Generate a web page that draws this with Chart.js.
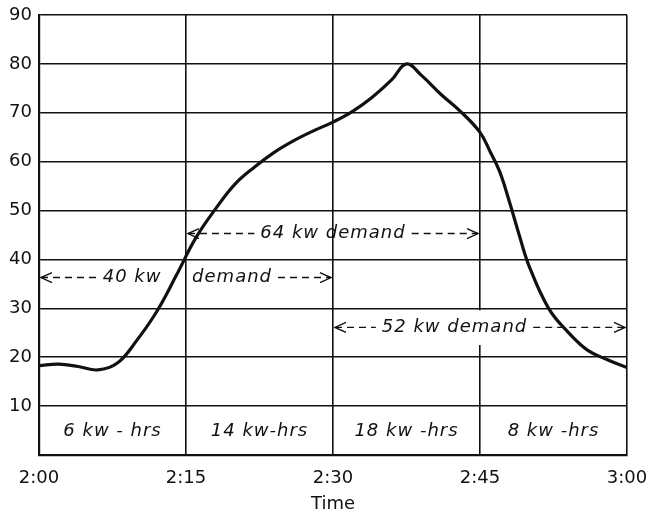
<!DOCTYPE html>
<html>
<head>
<meta charset="utf-8">
<script src="https://cdn.jsdelivr.net/npm/chart.js@4.4.0/dist/chart.umd.min.js"></script>
<style>
  html, body { margin: 0; padding: 0; background: #fff; }
  #box { width: 654px; height: 517px; }
</style>
</head>
<body>
<div id="box"><canvas id="grafico"></canvas></div>
<script>
// minutos depois das 2:00 e demanda em kw
var minutos = [0, 2, 4, 6, 8, 10, 12, 14, 16, 18, 20, 22, 24, 26, 28, 30, 32, 34, 36, 37.5, 39, 41, 43, 45, 46, 47, 48, 49, 50, 52, 54, 56, 58, 60];
var kw = [18.3, 18.6, 18.1, 17.4, 18.8, 23.5, 29.3, 36.7, 44.4, 50.3, 55.4, 58.9, 61.9, 64.3, 66.3, 68.1, 70.3, 73.2, 76.8, 80, 77.7, 73.8, 70.3, 66, 62.2, 58, 51.8, 45, 38.7, 30, 25.1, 21.4, 19.5, 17.9];

var rotulosX = ['2:00', '2:15', '2:30', '2:45', '3:00'];

// energia em cada quarto de hora
var faixas = ['6 kw - hrs', '14 kw-hrs', '18 kw -hrs', '8 kw -hrs'];

// setas de demanda: inicio/fim (min), nivel (kw), textos e onde ficam (min)
var demandaInicio = [0, 15, 30];
var demandaFim = [30, 45, 60];
var demandaNivel = [36.3, 45.3, 26.1];
var demandaTextos = [['40 kw', 'demand'], ['64 kw demand'], ['52 kw demand']];
var demandaPosicoes = [[9.5, 19.7], [30], [42.4]];

var preto = '#111';
var fonteMao = 'italic 18px "DejaVu Sans"';

var pontos = minutos.map(function (m, i) { return { x: m, y: kw[i] }; });

function seta(ctx, x, y, dir) {
    ctx.beginPath();
    ctx.moveTo(x - dir * 11, y - 5);
    ctx.lineTo(x, y);
    ctx.lineTo(x - dir * 11, y + 5);
    ctx.stroke();
}

function tracejado(ctx, x1, x2, y) {
    if (x2 - x1 < 2) return;
    ctx.save();
    ctx.setLineDash([7, 5]);
    ctx.beginPath();
    ctx.moveTo(x1, y);
    ctx.lineTo(x2, y);
    ctx.stroke();
    ctx.restore();
}

var anotacoes = {
    id: 'anotacoes',
    afterDatasetsDraw: function (chart) {
        var ctx = chart.ctx;
        var sx = chart.scales.x, sy = chart.scales.y;
        ctx.save();

        // abertura na linha das 2:45 onde passa a seta de 52 kw
        ctx.fillStyle = '#fff';
        ctx.fillRect(sx.getPixelForValue(45) - 2, sy.getPixelForValue(30) + 2, 4, sy.getPixelForValue(22.9) - sy.getPixelForValue(30));

        ctx.fillStyle = preto;
        ctx.strokeStyle = preto;
        ctx.lineWidth = 1.4;
        ctx.font = fonteMao;
        ctx.letterSpacing = '1px';
        ctx.textAlign = 'center';
        ctx.textBaseline = 'middle';

        // kw-hrs abaixo da linha de 10
        faixas.forEach(function (t, i) {
            ctx.fillText(t, sx.getPixelForValue(i * 15 + 7.5), sy.getPixelForValue(4.9));
        });

        for (var i = 0; i < demandaInicio.length; i++) {
            var y = sy.getPixelForValue(demandaNivel[i]);
            var xa = sx.getPixelForValue(demandaInicio[i]) + 2;
            var xb = sx.getPixelForValue(demandaFim[i]) - 2;
            var textos = demandaTextos[i];
            var pos = demandaPosicoes[i];
            var esq = null, dir = null;
            for (var j = 0; j < textos.length; j++) {
                var cx = sx.getPixelForValue(pos[j]);
                var w = ctx.measureText(textos[j]).width;
                ctx.fillText(textos[j], cx, y);
                if (j === 0) esq = cx - w / 2 - 6;
                if (j === textos.length - 1) dir = cx + w / 2 + 6;
            }
            tracejado(ctx, xa, esq, y);
            tracejado(ctx, dir, xb, y);
            seta(ctx, xa, y, -1);
            seta(ctx, xb, y, 1);
        }
        ctx.restore();
    }
};

var ctx1 = document.getElementById('grafico').getContext('2d');
var grafico = new Chart(ctx1, {
    type: 'line',
    data: {
        datasets: [{
            label: 'kw',
            data: pontos,
            borderColor: preto,
            borderWidth: 3.2,
            pointRadius: 0,
            tension: 0.4,
            fill: false
        }]
    },
    options: {
        responsive: true,
        maintainAspectRatio: false,
        animation: false,
        layout: { padding: { top: 15, right: 27, left: 0, bottom: 0 } },
        plugins: {
            legend: { display: false },
            tooltip: { enabled: false }
        },
        scales: {
            x: {
                type: 'linear',
                min: 0,
                max: 60,
                afterFit: function (s) {
                    s.height = 62;
                    s.paddingLeft = 0;
                    s.paddingRight = 0;
                },
                afterBuildTicks: function (s) {
                    s.ticks = rotulosX.map(function (r, i) { return { value: i * 15 }; });
                },
                ticks: {
                    padding: 13,
                    color: preto,
                    font: { family: 'DejaVu Sans', size: 18 },
                    maxRotation: 0,
                    callback: function (v, i) { return rotulosX[i]; }
                },
                grid: { color: preto, lineWidth: 1.6, drawTicks: false },
                border: { color: preto, width: 2.2 },
                title: {
                    display: true,
                    text: 'Time',
                    color: preto,
                    font: { family: 'DejaVu Sans', size: 18 },
                    padding: { top: 0, bottom: 2 }
                }
            },
            y: {
                min: 0,
                max: 90,
                afterFit: function (s) {
                    s.width = 39;
                    s.paddingTop = 0;
                    s.paddingBottom = 0;
                },
                ticks: {
                    stepSize: 10,
                    padding: 7,
                    color: preto,
                    font: { family: 'DejaVu Sans', size: 18 },
                    callback: function (v) { return v === 0 ? '' : v; }
                },
                grid: { color: preto, lineWidth: 1.6, drawTicks: false },
                border: { color: preto, width: 2.2 }
            }
        }
    },
    plugins: [anotacoes]
});
</script>
</body>
</html>
